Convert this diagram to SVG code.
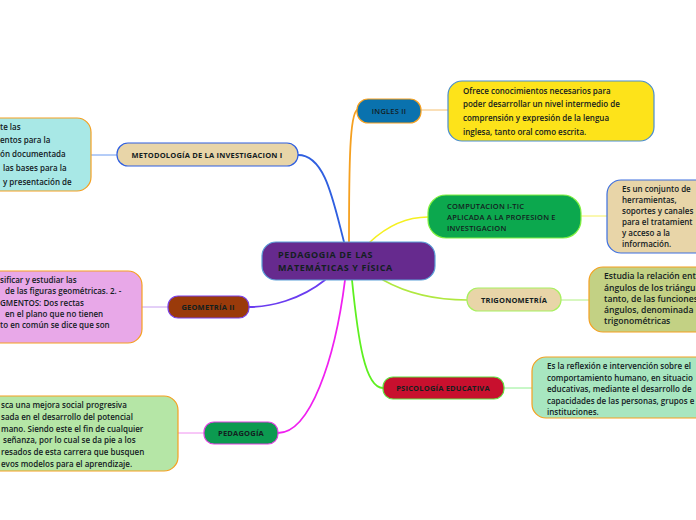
<svg xmlns="http://www.w3.org/2000/svg" width="696" height="520" viewBox="0 0 696 520">
<style>
text{font-family:"Open Sans","Noto Sans","Liberation Sans",sans-serif;font-weight:600;fill:#13201f}
.lbl{font-size:7.5px;font-weight:700;letter-spacing:0.2px}
.t{font-size:8px}
.c{fill:none;stroke-linecap:round}
</style>
<rect width="696" height="520" fill="#ffffff"/>
<g id="connectors">
<path class="c" d="M298,155 C325,155 333,200 344,242" stroke="#2f5fe0" stroke-width="1.8"/>
<path class="c" d="M357,110 C350,115 349,160 349,242" stroke="#f5a020" stroke-width="1.8"/>
<path class="c" d="M370,242 C385,228 405,217 428,217" stroke="#f5f020" stroke-width="1.5"/>
<path class="c" d="M383,280 C410,295 440,300 467,300" stroke="#b0e840" stroke-width="1.5"/>
<path class="c" d="M352,280 C358,340 365,388 383,388" stroke="#5ef020" stroke-width="1.8"/>
<path class="c" d="M345,280 C335,360 310,433 278,433" stroke="#f020f0" stroke-width="1.8"/>
<path class="c" d="M325,280 C300,300 270,307 249,307" stroke="#6a3cf0" stroke-width="1.8"/>
<line x1="91" y1="155" x2="117" y2="155" stroke="#6a9af0" stroke-width="1"/>
<line x1="421" y1="110" x2="448" y2="110" stroke="#f5c070" stroke-width="1"/>
<line x1="581" y1="216" x2="607" y2="216" stroke="#f5f060" stroke-width="1"/>
<line x1="561" y1="300" x2="589" y2="300" stroke="#b0f080" stroke-width="1"/>
<line x1="504" y1="388" x2="532" y2="388" stroke="#90f090" stroke-width="1"/>
<line x1="178" y1="433" x2="204" y2="433" stroke="#f090f0" stroke-width="1"/>
<line x1="142" y1="307" x2="168" y2="307" stroke="#c8a0f0" stroke-width="1"/>
</g>
<g id="central">
<rect x="262" y="242" width="173" height="38" rx="14" fill="#662a8e" stroke="#5aa0d8" stroke-width="1.2"/>
<text x="278" y="258" style="font-size:9px;font-weight:700;letter-spacing:0.6px">PEDAGOGIA DE LAS</text>
<text x="278" y="271" style="font-size:9px;font-weight:700;letter-spacing:0.6px">MATEMÁTICAS Y FÍSICA</text>
</g>
<g id="ingles">
<rect x="357" y="99" width="64" height="24" rx="11" fill="#0a72ae" stroke="#f5a020" stroke-width="1.2"/>
<text class="lbl" x="389" y="114" text-anchor="middle" style="font-weight:600">INGLES II</text>
</g>
<g id="ingles-note">
<rect x="448" y="81" width="206" height="60" rx="14" fill="#fde31a" stroke="#4a8ed0" stroke-width="1.2"/>
<text class="t" x="463" y="94">Ofrece conocimientos necesarios para</text>
<text class="t" x="463" y="107">poder desarrollar un nivel intermedio de</text>
<text class="t" x="463" y="121">comprensión y expresión de la lengua</text>
<text class="t" x="463" y="135">inglesa, tanto oral como escrita.</text>
</g>
<g id="metodologia">
<rect x="117" y="143" width="181" height="23" rx="11" fill="#e8d5a8" stroke="#2f5fe0" stroke-width="1.2"/>
<text class="lbl" x="207" y="158" text-anchor="middle">METODOLOGÍA DE LA INVESTIGACION I</text>
</g>
<g id="metodologia-note">
<rect x="-80" y="118" width="171" height="73" rx="14" fill="#a8e8e6" stroke="#f5a020" stroke-width="1.2"/>
<text class="t" x="0" y="130">te las</text>
<text class="t" x="0" y="143">entos para la</text>
<text class="t" x="0" y="157">ón documentada</text>
<text class="t" x="3" y="171">las bases para la</text>
<text class="t" x="3" y="185">y presentación de</text>
</g>
<g id="computacion">
<rect x="428" y="195" width="153" height="43" rx="18" fill="#0ca84e" stroke="#80f040" stroke-width="1.2"/>
<text class="lbl" x="447" y="209" style="font-weight:600">COMPUTACION I-TIC</text>
<text class="lbl" x="447" y="220" style="font-weight:600">APLICADA A LA PROFESION E</text>
<text class="lbl" x="447" y="231" style="font-weight:600">INVESTIGACION</text>
</g>
<g id="computacion-note">
<rect x="607" y="180" width="130" height="73" rx="14" fill="#e8d5a8" stroke="#3d6fe0" stroke-width="1.2"/>
<text class="t" x="622" y="192">Es un conjunto de</text>
<text class="t" x="622" y="203">herramientas,</text>
<text class="t" x="622" y="214">soportes y canales</text>
<text class="t" x="622" y="225">para el tratamient</text>
<text class="t" x="622" y="236">y acceso a la</text>
<text class="t" x="622" y="247">información.</text>
</g>
<g id="trigonometria">
<rect x="467" y="288" width="94" height="23" rx="11" fill="#e8d5a8" stroke="#a8f060" stroke-width="1.2"/>
<text class="lbl" x="514" y="303" text-anchor="middle">TRIGONOMETRÍA</text>
</g>
<g id="trigonometria-note">
<rect x="589" y="267" width="150" height="65" rx="14" fill="#c3d184" stroke="#f5a020" stroke-width="1.2"/>
<text x="604" y="279" style="font-size:8.6px">Estudia la relación ent</text>
<text x="604" y="291" style="font-size:8.6px">ángulos de los triángu</text>
<text x="604" y="302" style="font-size:8.6px">tanto, de las funciones</text>
<text x="604" y="313" style="font-size:8.6px">ángulos, denominada</text>
<text x="604" y="324" style="font-size:8.6px">trigonométricas</text>
</g>
<g id="psicologia">
<rect x="383" y="377" width="121" height="22" rx="10" fill="#c8102e" stroke="#60e040" stroke-width="1.2"/>
<text class="lbl" x="443" y="391" text-anchor="middle">PSICOLOGÍA EDUCATIVA</text>
</g>
<g id="psicologia-note">
<rect x="532" y="357" width="200" height="61" rx="14" fill="#a8e6c0" stroke="#f5a020" stroke-width="1.2"/>
<text class="t" x="547" y="369">Es la reflexión e intervención sobre el</text>
<text class="t" x="547" y="381">comportamiento humano, en situacio</text>
<text class="t" x="547" y="392">educativas, mediante el desarrollo de</text>
<text class="t" x="547" y="404">capacidades de las personas, grupos e</text>
<text class="t" x="547" y="415">instituciones.</text>
</g>
<g id="geometria">
<rect x="168" y="296" width="81" height="22" rx="10" fill="#9a3a0a" stroke="#7a40e8" stroke-width="1.2"/>
<text class="lbl" x="208" y="310" text-anchor="middle">GEOMETRÍA II</text>
</g>
<g id="geometria-note">
<rect x="-80" y="271" width="222" height="72" rx="14" fill="#e8a8e8" stroke="#f5a020" stroke-width="1.2"/>
<text class="t" x="0" y="283">sificar y estudiar las</text>
<text class="t" x="5" y="294">de las figuras geométricas. 2. -</text>
<text class="t" x="0" y="306">GMENTOS: Dos rectas</text>
<text class="t" x="5" y="317">en el plano que no tienen</text>
<text class="t" x="0" y="328">to en común se dice que son</text>
</g>
<g id="pedagogia">
<rect x="204" y="422" width="74" height="22" rx="10" fill="#0c9a50" stroke="#e040e0" stroke-width="1.2"/>
<text class="lbl" x="241" y="436" text-anchor="middle">PEDAGOGÍA</text>
</g>
<g id="pedagogia-note">
<rect x="-80" y="396" width="258" height="75" rx="14" fill="#b5e6a6" stroke="#f5a020" stroke-width="1.2"/>
<text class="t" x="1" y="408">sca una mejora social progresiva</text>
<text class="t" x="1" y="420">sada en el desarrollo del potencial</text>
<text class="t" x="1" y="432">mano. Siendo este el fin de cualquier</text>
<text class="t" x="3" y="443">señanza, por lo cual se da pie a los</text>
<text class="t" x="1" y="455">resados de esta carrera que busquen</text>
<text class="t" x="1" y="467">evos modelos para el aprendizaje.</text>
</g>
</svg>
